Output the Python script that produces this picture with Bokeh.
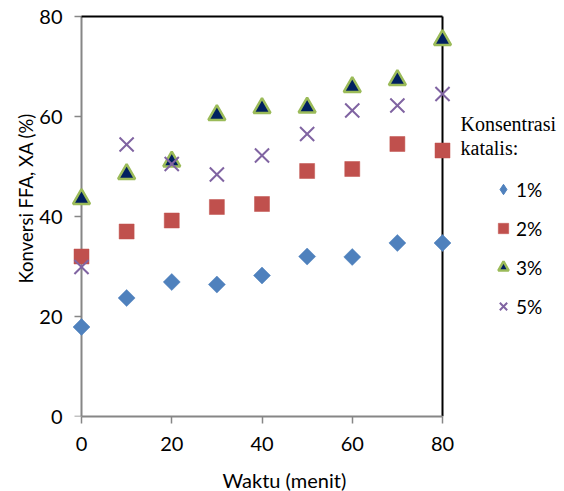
import math
from bokeh.plotting import figure
from bokeh.models import (Legend, LegendItem, Label, Range1d, FixedTicker,
                          Title)
from bokeh.embed import file_html
from bokeh.resources import INLINE

# ---- data ----
time_min = [0, 10, 20, 30, 40, 50, 60, 70, 80]
k1 = [17.9, 23.7, 26.9, 26.4, 28.2, 32.0, 31.9, 34.7, 34.7]
k2 = [32.0, 37.0, 39.2, 41.9, 42.5, 49.1, 49.5, 54.5, 53.2]
k3 = [43.5, 48.5, 51.0, 60.3, 61.7, 61.8, 65.9, 67.3, 75.3]
k5 = [29.9, 54.4, 50.5, 48.4, 52.2, 56.5, 61.2, 62.2, 64.5]
series_names = ["1%", "2%", "3%", "5%"]
x_ticks = [0, 20, 40, 60, 80]
y_ticks = [0, 20, 40, 60, 80]
x_title = "Waktu (menit)"
y_title = "Konversi FFA, XA (%)"
legend_title = ["Konsentrasi", "katalis:"]

# ---- layout (pixels) ----
W, H = 564, 491
BOX_L, BOX_R, BOX_T, BOX_B = 81, 442, 16, 416
FRAME_L, FRAME_T = 70, 12
x0, x1 = x_ticks[0], x_ticks[-1]
y0, y1 = y_ticks[0], y_ticks[-1]
xppu = (BOX_R - BOX_L) / (x1 - x0)
yppu = (BOX_B - BOX_T) / (y1 - y0)
x_range = Range1d(x0 - (BOX_L - FRAME_L) / xppu, x0 + (W - BOX_L) / xppu)
y_range = Range1d(y0, y1 + (BOX_T - FRAME_T) / yppu)

p = figure(frame_width=W - FRAME_L, frame_height=BOX_B - FRAME_T,
           x_range=x_range, y_range=y_range,
           output_backend="svg", toolbar_location=None,
           min_border_left=FRAME_L, min_border_right=0,
           min_border_top=FRAME_T, min_border_bottom=H - BOX_B)
p.outline_line_color = None
p.grid.visible = False
p.background_fill_color = "white"
p.border_fill_color = "white"

FONT = "Lato"
AX = "#868686"

for ax in (p.xaxis[0], p.yaxis[0]):
    ax.minor_tick_line_color = None
    ax.major_label_text_font = FONT
    ax.major_label_text_font_size = "20px"
    ax.major_label_text_color = "black"

xa = p.xaxis[0]
xa.ticker = FixedTicker(ticks=x_ticks)
xa.bounds = (x0, x1)
xa.axis_line_color = AX
xa.axis_line_width = 2
xa.major_tick_line_color = AX
xa.major_tick_line_width = 1.5
xa.major_tick_in = 0
xa.major_tick_out = 7
xa.major_label_standoff = 13

ya = p.yaxis[0]
ya.ticker = FixedTicker(ticks=y_ticks)
ya.axis_line_color = None
ya.major_tick_line_color = None
ya.major_tick_in = 0
ya.major_tick_out = 0
ya.major_label_standoff = 8

# axis titles, placed along the box rather than the whole frame
p.add_layout(Title(text=x_title, align="left", offset=222 - FRAME_L,
                   text_font=FONT, text_font_size="20px",
                   text_font_style="normal", text_color="black",
                   standoff=24), "below")
p.add_layout(Title(text=y_title, align="left", offset=BOX_B - 283,
                   text_font=FONT, text_font_size="18.5px",
                   text_font_style="normal", text_color="black",
                   standoff=0), "left")

# y axis line and its tick marks at x = 0 (grey), box top and right (black)
tick_len = 7 / xppu
p.segment(x0=[x0 - tick_len] * len(y_ticks), y0=y_ticks,
          x1=[x0] * len(y_ticks), y1=y_ticks, line_color=AX, line_width=1.5)
p.segment(x0=[x0], y0=[y0], x1=[x0], y1=[y1], line_color=AX, line_width=2)
p.segment(x0=[x0, x1], y0=[y1, y0], x1=[x1, x1], y1=[y1, y1],
          line_color="black", line_width=2)

BLUE, RED, NAVY, GREEN, PURPLE = "#4F81BD", "#C0504D", "#002060", "#9BBB59", "#8064A2"
# diamond-shaped key for the 1% series; it sits hidden under the tilted squares
r1_key = p.scatter(time_min, k1, marker="diamond", size=12,
                   fill_color=BLUE, line_color=BLUE, line_width=1)
r1 = p.scatter(time_min, k1, marker="square", angle=math.pi / 4, size=12,
               fill_color=BLUE, line_color=BLUE, line_width=0.5)
r2 = p.scatter(time_min, k2, marker="square", size=15,
               fill_color=RED, line_color=RED, line_width=0.5)
r3 = p.scatter(time_min, k3, marker="triangle", size=17,
               fill_color=NAVY, line_color=GREEN, line_width=2.5)
r5 = p.scatter(time_min, k5, marker="x", size=20,
               line_color=PURPLE, line_width=2)

legend = Legend(items=[LegendItem(label=n, renderers=[r]) for n, r in
                       zip(series_names, [r1_key, r2, r3, r5])],
                location=(490 - FRAME_L, BOX_B - 319), orientation="vertical",
                glyph_width=26, glyph_height=26, label_height=26,
                label_standoff=0, spacing=13, padding=0, margin=0,
                border_line_color=None, background_fill_alpha=0,
                label_text_font=FONT, label_text_font_size="19px",
                label_text_color="black")
p.add_layout(legend)

for txt, base in zip(legend_title, [123, 147]):
    p.add_layout(Label(x=460 - FRAME_L, y=BOX_B - base,
                       x_units="screen", y_units="screen",
                       text=txt, text_font="Liberation Serif",
                       text_font_size="20px", text_color="black",
                       text_baseline="alphabetic", text_align="left"))

open("out.html", "w").write(file_html(p, INLINE))
